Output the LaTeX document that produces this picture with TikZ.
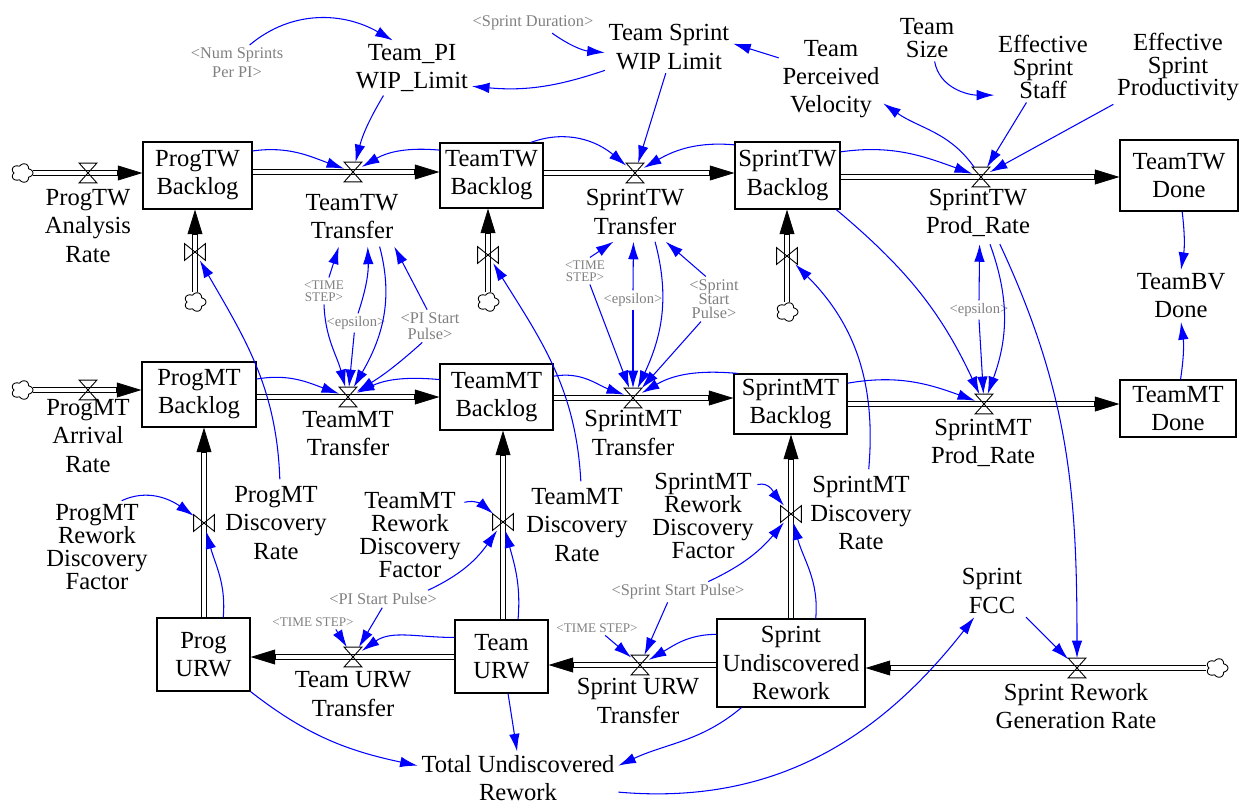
\documentclass[tikz,border=0pt]{standalone}
\usepackage{fontspec}
\setmainfont{Liberation Serif}
\usetikzlibrary{arrows.meta}

\definecolor{shadowgray}{RGB}{128,128,128}

\tikzset{
  stock/.style={draw,line width=0.7pt,align=center,inner sep=0pt,
    font=\fontsize{14}{16}\selectfont},
  aux/.style={align=center,inner sep=2pt,font=\fontsize{14}{16}\selectfont},
  auxtight/.style={aux,font=\fontsize{14}{13}\selectfont},
  ratelabel/.style={aux,inner sep=4pt},
  shadow/.style={align=center,inner sep=1.5pt,text=shadowgray,
    font=\fontsize{9.3}{10}\selectfont,execute at begin node={\lineskiplimit=-5pt}},
  shadowsmall/.style={shadow,font=\fontsize{7.5}{7}\selectfont},
  valveh/.style={inner sep=0pt,minimum width=3.4mm,minimum height=3.8mm},
  valvev/.style={inner sep=0pt,minimum width=4mm,minimum height=3.2mm},
  cloudspot/.style={inner sep=0pt,minimum width=4.4mm,minimum height=4mm},
  link/.style={blue,line width=0.6pt,-{Latex[length=10pt,width=6pt]}},
  pipeout/.style={line width=3pt,-{Triangle[length=14pt,width=8.5pt,line width=0.4pt]}},
  pipein/.style={line width=1.8pt,white,shorten >=14.5pt},
}
\newcommand{\flowpipe}[2]{\draw[pipeout] #1 -- #2; \draw[pipein] #1 -- #2;}

\begin{document}
\begin{tikzpicture}[x=0.2mm,y=0.2mm]
\useasboundingbox (0,0) rectangle (1250,-808);

%Stocks
\node[stock,minimum width=21.8mm,minimum height=13.4mm] (ptwb) at (197.5,-175.5) {ProgTW\\Backlog};
\node[stock,minimum width=20.6mm,minimum height=13mm] (ttwb) at (491.5,-175.5) {TeamTW\\Backlog};
\node[stock,minimum width=21mm,minimum height=13.4mm] (stwb) at (787.5,-175.5) {SprintTW\\Backlog};
\node[stock,minimum width=23.6mm,minimum height=14.2mm] (ttwd) at (1179,-175.5) {TeamTW\\Done};
\node[stock,minimum width=22.8mm,minimum height=13mm] (pmtb) at (199,-394.5) {ProgMT\\Backlog};
\node[stock,minimum width=22.6mm,minimum height=13.2mm] (tmtb) at (496.5,-397) {TeamMT\\Backlog};
\node[stock,minimum width=22.6mm,minimum height=12mm] (smtb) at (790.5,-404) {SprintMT\\Backlog};
\node[stock,minimum width=23.2mm,minimum height=11.4mm] (tmtd) at (1178,-408.5) {TeamMT\\Done};
\node[stock,minimum width=18.6mm,minimum height=14.6mm] (purw) at (203.5,-654.5) {Prog\\URW};
\node[stock,minimum width=18.6mm,minimum height=14.6mm] (turw) at (501.5,-656.5) {Team\\URW};
\node[stock,minimum width=29.6mm,minimum height=17.6mm] (surw) at (791,-663) {Sprint\\Undiscovered\\Rework};

%Valves
\node[valveh] (vptwa) at (88,-173) {};
\node[valveh] (vttwt) at (353,-172) {};
\node[valveh] (vstwt) at (635,-173) {};
\node[valveh] (vstwp) at (981,-177) {};
\node[valveh] (vpmta) at (88,-390) {};
\node[valveh] (vtmtt) at (348,-397) {};
\node[valveh] (vsmtt) at (633,-398) {};
\node[valveh] (vsmtp) at (984,-404) {};
\node[valveh] (vturt) at (353,-657) {};
\node[valveh] (vsurt) at (640,-665) {};
\node[valveh] (vsrgr) at (1077,-668) {};
\node[valvev] (vptwi) at (195,-252) {};
\node[valvev] (vttwi) at (488,-255) {};
\node[valvev] (vstwi) at (787,-256) {};
\node[valvev] (vpmtd) at (204,-523) {};
\node[valvev] (vtmtd) at (503,-522) {};
\node[valvev] (vsmtd) at (791,-514) {};

%Clouds
\node[cloudspot] (cptwa) at (22,-173) {};
\node[cloudspot] (cpmta) at (22,-390) {};
\node[cloudspot] (cptwi) at (195,-302) {};
\node[cloudspot] (cttwi) at (488,-302) {};
\node[cloudspot] (cstwi) at (787,-312) {};
\node[cloudspot] (csrgr) at (1217,-668) {};

%Rate names
\node[ratelabel] (lptwa) at (88,-226) {ProgTW\\Analysis\\Rate};
\node[ratelabel] (lttwt) at (352,-217) {TeamTW\\Transfer};
\node[ratelabel] (lstwt) at (635,-212) {SprintTW\\Transfer};
\node[ratelabel] (lstwp) at (978,-213) {SprintTW\\Prod\_Rate};
\node[ratelabel] (lpmta) at (88,-436) {ProgMT\\Arrival\\Rate};
\node[ratelabel] (ltmtt) at (348,-434) {TeamMT\\Transfer};
\node[ratelabel] (lsmtt) at (633,-433) {SprintMT\\Transfer};
\node[ratelabel] (lsmtp) at (983,-443) {SprintMT\\Prod\_Rate};
\node[ratelabel] (lpmtd) at (276,-523) {ProgMT\\Discovery\\Rate};
\node[ratelabel] (ltmtd) at (577,-525) {TeamMT\\Discovery\\Rate};
\node[ratelabel] (lsmtd) at (861,-513) {SprintMT\\Discovery\\Rate};
\node[ratelabel] (lturt) at (353,-694) {Team URW\\Transfer};
\node[ratelabel] (lsurt) at (638,-701) {Sprint URW\\Transfer};
\node[ratelabel] (lsrgr) at (1076,-706) {Sprint Rework\\Generation Rate};

%Auxiliaries
\node[aux] (tpiwip) at (412,-68) {Team\_PI\\WIP\_Limit};
\node[aux] (tswip) at (669,-47) {Team Sprint\\WIP Limit};
\node[aux] (tpv) at (831,-79) {Team\\Perceived\\Velocity};
\node[auxtight] (tsize) at (927,-38) {Team\\Size};
\node[auxtight] (ess) at (1043,-67) {Effective\\Sprint\\Staff};
\node[auxtight] (esp) at (1178,-67) {Effective\\Sprint\\Productivity};
\node[aux] (tbvd) at (1181,-296) {TeamBV\\Done};
\node[auxtight] (pmrdf) at (97,-547) {ProgMT\\Rework\\Discovery\\Factor};
\node[auxtight] (tmrdf) at (410,-535) {TeamMT\\Rework\\Discovery\\Factor};
\node[auxtight] (smrdf) at (703,-516) {SprintMT\\Rework\\Discovery\\Factor};
\node[aux] (sfcc) at (992,-591) {Sprint\\FCC};
\node[aux] (tur) at (518,-778) {Total Undiscovered\\Rework};

%Shadow variables
\node[shadow,font=\fontsize{9.3}{10.8}\selectfont] (gnsp) at (237,-63) {<Num Sprints\\Per PI>};
\node[shadow] (gsd) at (533,-23) {<Sprint Duration>};
\node[shadowsmall] (gts1) at (324,-291) {<TIME\\STEP>};
\node[shadow,font=\fontsize{8.3}{9}\selectfont] (geps1) at (356,-323) {<epsilon>};
\node[shadow,font=\fontsize{9.3}{9}\selectfont] (gpisp1) at (430,-326) {<PI Start\\Pulse>};
\node[shadowsmall] (gts2) at (585,-271) {<TIME\\STEP>};
\node[shadow,font=\fontsize{8.3}{9}\selectfont] (geps2) at (633,-300) {<epsilon>};
\node[shadow,font=\fontsize{9.3}{8}\selectfont] (gssp2) at (714,-299) {<Sprint\\Start\\Pulse>};
\node[shadow,font=\fontsize{8.3}{9}\selectfont] (geps3) at (979,-310) {<epsilon>};
\node[shadow] (gpisp3) at (383,-599) {<PI Start Pulse>};
\node[shadowsmall] (gts3) at (313,-622) {<TIME STEP>};
\node[shadow] (gssp3) at (678,-592) {<Sprint Start Pulse>};
\node[shadowsmall] (gts4) at (597,-628) {<TIME STEP>};

%Flows
\flowpipe{(cptwa)}{(ptwb.west |- cptwa)}
\flowpipe{(ptwb.east |- vttwt)}{(ttwb.west |- vttwt)}
\flowpipe{(ttwb.east |- vstwt)}{(stwb.west |- vstwt)}
\flowpipe{(stwb.east |- vstwp)}{(ttwd.west |- vstwp)}
\flowpipe{(cptwi)}{(ptwb.south -| cptwi)}
\flowpipe{(cttwi)}{(ttwb.south -| cttwi)}
\flowpipe{(cstwi)}{(stwb.south -| cstwi)}
\flowpipe{(cpmta)}{(pmtb.west |- cpmta)}
\flowpipe{(pmtb.east |- vtmtt)}{(tmtb.west |- vtmtt)}
\flowpipe{(tmtb.east |- vsmtt)}{(smtb.west |- vsmtt)}
\flowpipe{(smtb.east |- vsmtp)}{(tmtd.west |- vsmtp)}
\flowpipe{(purw.north -| vpmtd)}{(pmtb.south -| vpmtd)}
\flowpipe{(turw.north -| vtmtd)}{(tmtb.south -| vtmtd)}
\flowpipe{(surw.north -| vsmtd)}{(smtb.south -| vsmtd)}
\flowpipe{(turw.west |- vturt)}{(purw.east |- vturt)}
\flowpipe{(surw.west |- vsurt)}{(turw.east |- vsurt)}
\flowpipe{(csrgr)}{(surw.east |- csrgr)}

% valve symbols
\foreach \v in {vptwa,vttwt,vstwt,vstwp,vpmta,vtmtt,vsmtt,vsmtp,vturt,vsurt,vsrgr}
  \draw[line width=0.5pt] (\v.north west) -- (\v.north east) -- (\v.south west) -- (\v.south east) -- cycle;
\foreach \v in {vptwi,vttwi,vstwi,vpmtd,vtmtd,vsmtd}
  \draw[line width=0.5pt] (\v.north west) -- (\v.south west) -- (\v.north east) -- (\v.south east) -- cycle;

% clouds
\foreach \c in {cptwa,cpmta,cptwi,cttwi,cstwi,csrgr}
  \draw[line width=0.5pt,fill=white,shift={(\c)}] plot[domain=0:360,samples=73,variable=\t]
    ({1.15*cos(\t)*(7+2.5*abs(cos(2.5*\t)))},{sin(\t)*(7+2.5*abs(cos(2.5*\t)))}) -- cycle;

%Links - top
\draw[link] (gnsp.55) to[out=40,in=150] (tpiwip.125);
\draw[link] (gsd.-28) to[bend right=15] (tswip.185);
\draw[link] (tswip.200) to[bend left=12] (tpiwip.-17);
\draw[link] (tpv.158) -- (tswip.3);
\draw[link] (tsize.-72) to[out=-80,in=180] (ess.210);
\draw[link] (ess.-115) -- (vstwp);
\draw[link] (esp.-150) -- (vstwp);
\draw[link] (vstwp) to[out=125,in=-35] (tpv.-25);
\draw[link] (tpiwip.-136) to[bend right=8] (vttwt);
\draw[link] (ptwb.24) to[out=8,in=160] (vttwt);
\draw[link] (ttwb.154) to[out=175,in=30] (vttwt);
\draw[link] (tswip.-97) -- (vstwt);
\draw[link] (ttwb.40) to[out=20,in=140] (vstwt);
\draw[link] (stwb.150) to[out=175,in=30] (vstwt);
\draw[link] (stwb.24) to[out=8,in=160] (vstwp);
\draw[link] (ttwd.-85) to[bend left=8] (tbvd.90);
\draw[link] (tmtd.85) to[bend right=8] (tbvd.-90);

%Links - TeamMT Transfer
\draw[link] (gts1.70) -- (lttwt.-114);
\draw[link] (gts1.south) to[out=-88,in=105] (vtmtt);
\draw[link] (geps1.78) to[bend right=10] (lttwt.-62);
\draw[link] (geps1.-100) -- (vtmtt);
\draw[link] (gpisp1.100) -- (lttwt.-35);
\draw[link] (gpisp1.-115) to[bend left=5] (vtmtt);
\draw[link] (lttwt.-47) to[out=-75,in=60] (vtmtt);
\draw[link] (pmtb.15) to[out=10,in=160] (vtmtt);
\draw[link] (tmtb.163) to[out=175,in=25] (vtmtt);

%Links - SprintMT Transfer and Prod_Rate
\draw[link] (gts2.70) -- (lstwt.-126);
\draw[link] (gts2.-70) -- (vsmtt);
\draw[link] (geps2.north) -- (lstwt.-93);
\draw[link] (geps2.south) -- (vsmtt);
\draw[link] (gssp2.110) -- (lstwt.-44);
\draw[link] (gssp2.-120) -- (vsmtt);
\draw[link] (lstwt.-56) to[out=-75,in=65] (vsmtt);
\draw[link] (tmtb.20) to[out=10,in=160] (vsmtt);
\draw[link] (smtb.150) to[out=175,in=30] (vsmtt);
\draw[link] (smtb.20) to[out=10,in=160] (vsmtp);
\draw[link] (geps3.north) -- (lstwp.-87);
\draw[link] (geps3.south) -- (vsmtp);
\draw[link] (lstwp.-69) to[out=-70,in=70] (vsmtp);
\draw[link] (lstwp.-55) to[out=-65,in=90] (vsrgr);
\draw[link] (stwb.-35) to[out=-40,in=115] (vsmtp);

%Links - discovery
\draw[link] (lpmtd.85) to[out=92,in=-60] (vptwi);
\draw[link] (ltmtd.85) to[out=93,in=-58] (vttwi);
\draw[link] (lsmtd.80) to[out=85,in=-45] (vstwi);
\draw[link] (pmrdf.62) to[out=25,in=145] (vpmtd);
\draw[link] (purw.62) to[out=85,in=-75] (vpmtd);
\draw[link] (tmrdf.31) to[out=15,in=140] (vtmtd);
\draw[link] (gpisp3.11) to[out=25,in=-125] (vtmtd);
\draw[link] (turw.66) to[out=85,in=-75] (vtmtd);
\draw[link] (smrdf.30) to[out=15,in=130] (vsmtd);
\draw[link] (gssp3.19) to[out=25,in=-130] (vsmtd);
\draw[link] (surw.61) to[out=85,in=-75] (vsmtd);

%Links - URW transfers
\draw[link] (gts3.-18) -- (vturt);
\draw[link] (gpisp3.-95) -- (vturt);
\draw[link] (turw.158) to[out=180,in=35] (vturt);
\draw[link] (gts4.-42) -- (vsurt);
\draw[link] (gssp3.-135) -- (vsurt);
\draw[link] (surw.159) to[out=180,in=30] (vsurt);
\draw[link] (sfcc.south east) -- (vsrgr);

%Links - total rework
\draw[link] (purw.south east) to[out=-38,in=168] (tur.173);
\draw[link] (turw.-80) -- (tur.92);
\draw[link] (surw.-138) to[out=-140,in=25] (tur.7);
\draw[link] (tur.-8) to[out=-5,in=-128] (sfcc.-124);

\end{tikzpicture}
\end{document}
